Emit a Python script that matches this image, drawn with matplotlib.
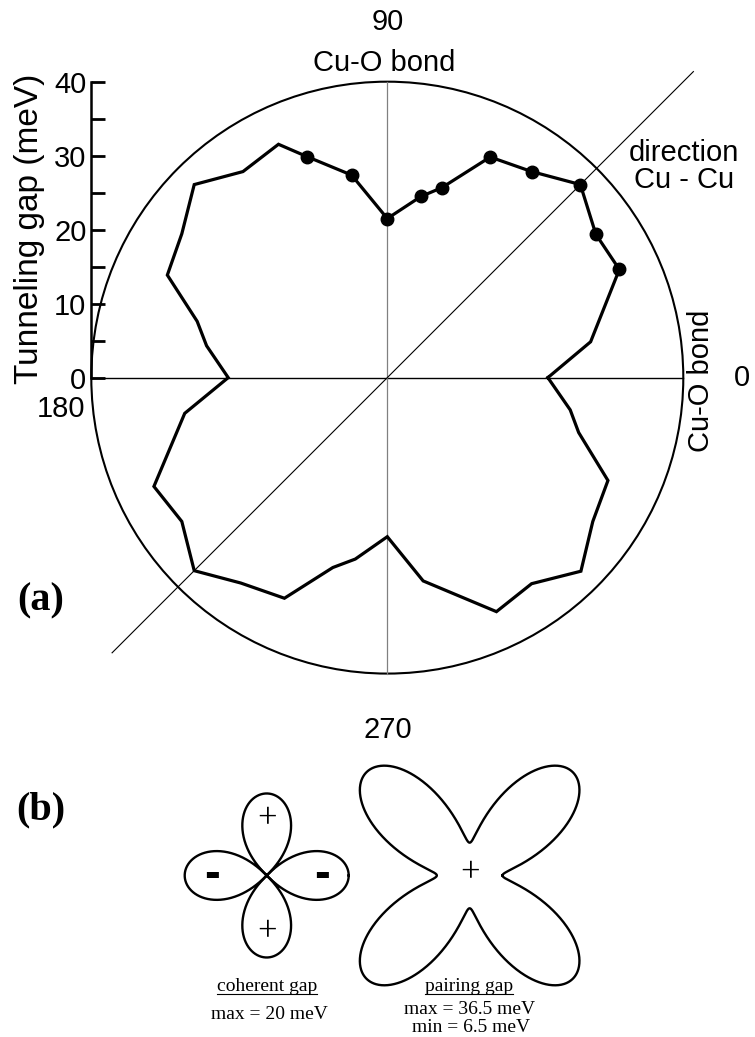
import numpy as np
import matplotlib
matplotlib.use("Agg")
import matplotlib.pyplot as plt
from matplotlib.patches import Circle
from matplotlib.lines import Line2D

plt.rcParams['font.family'] = ['Liberation Sans', 'DejaVu Sans']

# --- (a) measured tunneling gap vs in-plane angle ---
angle_deg = [0, 10, 25, 34.5, 45, 55, 65, 74, 79.5, 90,
             100, 110, 115, 125, 135, 145, 155, 163.5, 170, 180,
             190, 205, 215, 225, 234.5, 245, 254, 260, 270,
             280, 295, 305, 315, 325, 335, 344, 350, 360]
gap_mev = [21.7, 27.9, 34.6, 34.2, 36.9, 34.0, 32.9, 26.7, 24.9, 21.5,
           27.8, 31.8, 34.8, 34.0, 36.9, 33.9, 32.8, 26.8, 24.8, 21.5,
           27.8, 34.8, 33.9, 36.9, 34.1, 32.9, 26.7, 24.9, 21.5,
           27.9, 34.9, 34.0, 37.0, 33.9, 32.9, 26.9, 25.1, 21.7]

# measured points (filled dots)
meas_angle = [25, 34.5, 45, 55, 65, 74, 79.5, 90, 100, 110]
meas_gap = [34.6, 34.2, 36.9, 34.0, 32.9, 26.7, 24.9, 21.5, 27.8, 31.8]

r_max = 40
gap_ticks = [0, 10, 20, 30, 40]
gap_minor = [5, 15, 25, 35]

# --- (b) model gaps (meV) ---
coherent_max = 20
pairing_max = 36.5
pairing_min = 6.5
# shape of the drawn curves (meV, as drawn)
pair_draw_min, pair_draw_max = 8.0, 35.6
coh_lobe_power = 0.8

fig = plt.figure(figsize=(7.55, 10.37), dpi=100)

# axes (a): 7.4 px per meV, centre at pixel (387.3, 377.7)
ax = fig.add_axes([0, 0, 1, 1])
ax.set_facecolor('none')
ax.set_xlim(-52.34, 49.69)
ax.set_ylim(-89.12, 51.04)

for s in ['top', 'right', 'bottom']:
    ax.spines[s].set_visible(False)
ax.spines['left'].set_position(('data', -r_max))
ax.spines['left'].set_bounds(0, r_max)
ax.spines['left'].set_linewidth(1.8)
ax.set_xticks([])
ax.set_yticks(gap_ticks)
ax.set_yticks(gap_minor, minor=True)
ax.tick_params(axis='y', which='both', direction='in', length=10, width=2,
               labelsize=21, pad=3.5)
ax.set_ylabel('Tunneling gap (meV)', fontsize=24)
ax.yaxis.set_label_coords(-46.2, 20.1, transform=ax.transData)

# reference circle and axes lines
ax.add_patch(Circle((0, 0), r_max, fill=False, lw=1.5, color='black'))
ax.plot([-r_max, r_max], [0, 0], color='black', lw=1.0)
ax.plot([0, 0], [-r_max, r_max], color='#808080', lw=0.9)
d = np.array([-52.6, 58.5]) * np.cos(np.pi / 4)
ax.plot(d, d, color='black', lw=0.8)

th = np.radians(angle_deg)
ax.plot(np.array(gap_mev) * np.cos(th), np.array(gap_mev) * np.sin(th),
        color='black', lw=2.3, solid_joinstyle='miter')
thm = np.radians(meas_angle)
ax.plot(np.array(meas_gap) * np.cos(thm), np.array(meas_gap) * np.sin(thm),
        'o', color='black', ms=9)

ax.text(0.1, 48.1, '90', fontsize=21, ha='center', va='center')
ax.text(-0.4, 42.5, 'Cu-O bond', fontsize=21, ha='center', va='center')
ax.text(40.1, 28.5, 'direction\nCu - Cu', fontsize=21, ha='center',
        va='center', linespacing=0.95)
ax.text(42.45, -0.45, 'Cu-O bond', fontsize=21, ha='center', va='center',
        rotation=90)
ax.text(47.9, 0, '0', fontsize=21, ha='center', va='center')
ax.text(-40.85, -4.2, '180', fontsize=21, ha='right', va='center')
ax.text(0.1, -47.6, '270', fontsize=21, ha='center', va='center')
ax.text(-46.9, -30.2, '(a)', fontsize=29, fontweight='bold',
        family='Liberation Serif', ha='center', va='center')

# axes (b): 4.1 px per meV, coherent gap centred at pixel (266.7, 875.5)
bx = fig.add_axes([0, 0, 1, 1])
bx.set_facecolor('none')
bx.axis('off')
bx.set_xlim(-65.05, 119.10)
bx.set_ylim(-39.39, 213.5)

pair_x = 49.5
phi = np.linspace(0, 2 * np.pi, 1441)
r_coh = coherent_max * np.abs(np.cos(2 * phi)) ** coh_lobe_power
bx.plot(r_coh * np.cos(phi), r_coh * np.sin(phi), color='black', lw=1.7)
r_pair = pair_draw_min + (pair_draw_max - pair_draw_min) * np.sin(2 * phi) ** 2
bx.plot(pair_x + r_pair * np.cos(phi), r_pair * np.sin(phi), color='black', lw=1.7)

serif = 'Liberation Serif'
bx.text(0, 13.6, '+', fontsize=25, family=serif, ha='center', va='center')
bx.text(0, -13.9, '+', fontsize=25, family=serif, ha='center', va='center')
bx.text(-13.4, 0, '-', fontsize=34, fontweight='bold', ha='center', va='center')
bx.text(13.6, 0, '-', fontsize=34, fontweight='bold', ha='center', va='center')
bx.text(pair_x, 0.5, '+', fontsize=25, family=serif, ha='center', va='center')

bx.text(-55.0, 16.0, '(b)', fontsize=29, fontweight='bold', family=serif,
        ha='center', va='center')
t_coh = bx.text(0, -27.0, 'coherent gap', fontsize=14, family=serif,
                ha='center', va='center')
bx.text(0.6, -34.0, f'max = {coherent_max} meV', fontsize=14, family=serif,
        ha='center', va='center')
t_pair = bx.text(pair_x - 0.2, -27.0, 'pairing gap', fontsize=14, family=serif,
                 ha='center', va='center')
bx.text(pair_x + 0.1, -32.6, f'max = {pairing_max} meV', fontsize=14,
        family=serif, ha='center', va='center')
bx.text(pair_x + 0.3, -37.0, f'min = {pairing_min} meV', fontsize=14,
        family=serif, ha='center', va='center')

# underline the two captions
fig.canvas.draw()
for t in (t_coh, t_pair):
    bb = t.get_window_extent().transformed(fig.transFigure.inverted())
    y_u = bb.y0 + 1.0 / 1037
    fig.add_artist(Line2D([bb.x0, bb.x1], [y_u, y_u], color='black', lw=0.8,
                          transform=fig.transFigure))

fig.savefig('out.png', dpi=100)
